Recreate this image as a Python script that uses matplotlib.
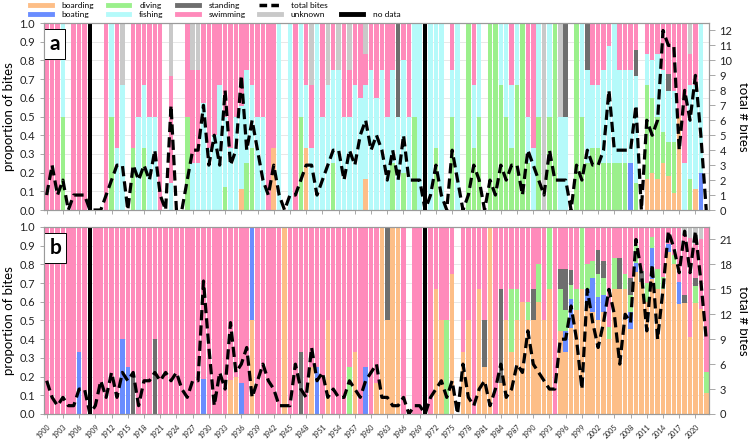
import numpy as np
import matplotlib
matplotlib.use("Agg")
import matplotlib.pyplot as plt
from matplotlib.lines import Line2D

plt.rcParams['font.family'] = ['Lato', 'DejaVu Sans']

years = np.arange(1900, 2023)
no_data_years = [1908, 1970]

categories = ["boarding", "boating", "diving", "fishing", "standing", "swimming", "unknown"]
colors = {
    "boarding": "#FDBE87",
    "boating": "#6A8DFF",
    "diving": "#9BF08C",
    "fishing": "#B5FAFA",
    "standing": "#6E6E6E",
    "swimming": "#FF8ABB",
    "unknown": "#C9C9C9",
}

# ---- panel a: bite counts per year (1900-2022), one row per decade ----
a_boarding = [0, 0, 0, 0, 0, 0, 0, 0, 0, 0,
              0, 0, 0, 0, 0, 0, 0, 0, 0, 0,
              0, 0, 0, 0, 0, 0, 0, 0, 0, 0,
              0, 0, 0, 0, 0, 0, 1, 0, 0, 0,
              0, 0, 1, 0, 0, 0, 0, 0, 1, 0,
              0, 0, 0, 0, 0, 0, 0, 0, 0, 1,
              0, 0, 0, 0, 0, 0, 0, 0, 0, 0,
              0, 0, 0, 0, 0, 0, 0, 0, 0, 0,
              0, 0, 0, 0, 0, 0, 0, 0, 0, 0,
              0, 0, 0, 0, 0, 0, 0, 0, 0, 0,
              0, 0, 0, 0, 0, 0, 0, 0, 0, 0,
              0, 1, 1, 1, 3, 2, 1, 2, 0, 0,
              1, 0, 0]
a_boating = [0] * 108 + [1] + [0] * 12 + [1, 0]
a_diving = [0, 0, 0, 1, 0, 0, 0, 0, 0, 0,
            0, 0, 1, 0, 0, 0, 1, 0, 1, 0,
            0, 0, 0, 0, 0, 0, 1, 0, 0, 0,
            0, 0, 0, 1, 0, 0, 0, 1, 2, 0,
            0, 0, 0, 0, 0, 0, 0, 1, 0, 0,
            0, 0, 0, 1, 0, 0, 0, 0, 0, 0,
            0, 0, 0, 0, 1, 0, 1, 0, 1, 0,
            0, 0, 1, 0, 0, 2, 0, 0, 1, 1,
            1, 0, 2, 1, 2, 1, 1, 2, 1, 1,
            0, 1, 0, 2, 2, 0, 0, 0, 3, 1,
            1, 1, 1, 1, 2, 1, 1, 1, 0, 1,
            0, 3, 2, 2, 2, 2, 3, 0, 0, 1,
            0, 0, 0]
a_fishing = [0, 0, 0, 1, 0, 0, 0, 0, 0, 0,
             0, 0, 1, 1, 2, 0, 0, 1, 1, 1,
             2, 0, 0, 1, 0, 0, 0, 1, 1, 4,
             1, 2, 2, 3, 1, 2, 4, 2, 2, 2,
             1, 0, 0, 1, 0, 1, 0, 1, 1, 1,
             1, 1, 2, 2, 3, 1, 2, 2, 3, 3,
             3, 3, 3, 1, 2, 1, 3, 1, 1, 2,
             0, 1, 2, 1, 0, 1, 2, 0, 0, 1,
             1, 0, 0, 0, 1, 1, 1, 1, 0, 1,
             1, 1, 0, 2, 0, 1, 1, 0, 0, 1,
             2, 1, 1, 2, 5, 3, 2, 2, 2, 4,
             0, 1, 1, 2, 4, 3, 3, 0, 2, 3,
             5, 4, 0]
a_standing = [0] * 65 + [1] + [0] * 30 + [1] + [0] * 3 + [1] + [0] * 8 + [1] + [0] * 5 + [1] + [0] * 7
a_swimming = [1, 3, 1, 0, 0, 1, 1, 1, 0, 0,
              0, 1, 0, 2, 0, 0, 2, 1, 1, 1,
              2, 1, 0, 4, 0, 0, 1, 2, 2, 3,
              2, 3, 1, 4, 2, 2, 4, 1, 2, 2,
              1, 1, 2, 0, 0, 0, 1, 0, 1, 1,
              0, 1, 0, 1, 0, 1, 1, 1, 2, 1,
              1, 2, 1, 1, 1, 0, 1, 1, 0, 0,
              0, 0, 0, 0, 0, 1, 0, 0, 0, 1,
              0, 0, 0, 0, 0, 0, 1, 0, 0, 2,
              2, 0, 0, 0, 0, 0, 0, 0, 0, 0,
              0, 1, 1, 1, 1, 0, 1, 1, 1, 1,
              0, 1, 1, 1, 3, 3, 4, 2, 6, 1,
              3, 0, 0]
a_unknown = [0, 0, 0, 0, 0, 0, 0, 0, 0, 0,
             0, 0, 0, 0, 1, 0, 0, 0, 0, 0,
             0, 0, 0, 2, 0, 0, 0, 1, 1, 0,
             0, 0, 0, 0, 0, 0, 0, 0, 0, 0,
             0, 0, 0, 0, 0, 0, 0, 0, 0, 1,
             0, 0, 1, 0, 1, 0, 1, 0, 0, 1,
             0, 0, 0, 0, 0, 0, 0, 0, 0, 0,
             0, 0, 0, 0, 0, 0, 0, 0, 0, 0,
             0, 0, 0, 0, 0, 0, 0, 0, 0, 0,
             0, 0, 1, 0, 0, 1, 0, 0, 0, 0,
             0, 0, 0, 0, 0, 0, 0, 0, 0, 0,
             0, 0, 0, 0, 0, 0, 0, 0, 0, 1,
             0, 0, 0]

# ---- panel b ----
b_boarding = [0, 0, 0, 0, 0, 0, 0, 0, 0, 0,
              0, 0, 0, 0, 0, 0, 0, 0, 0, 0,
              0, 0, 0, 0, 0, 0, 0, 0, 0, 0,
              0, 0, 0, 0, 2, 1, 0, 0, 1, 0,
              0, 0, 0, 0, 1, 0, 0, 0, 0, 2,
              0, 0, 1, 0, 0, 0, 0, 1, 0, 0,
              0, 1, 2, 1, 1, 1, 0, 0, 0, 0,
              0, 0, 2, 2, 0, 3, 0, 2, 1, 0,
              2, 1, 1, 0, 1, 1, 1, 3, 3, 5,
              3, 3, 2, 2, 0, 4, 3, 6, 5, 2,
              9, 6, 4, 6, 6, 8, 4, 8, 5, 16,
              12, 6, 13, 6, 10, 19, 16, 10, 13, 7,
              13, 9, 1]
b_boating = [0, 0, 0, 0, 0, 0, 1, 0, 0, 0,
             0, 0, 0, 0, 2, 1, 0, 0, 0, 0,
             0, 0, 0, 0, 0, 0, 0, 0, 0, 3,
             0, 0, 0, 0, 0, 0, 1, 0, 1, 0,
             0, 0, 0, 0, 0, 0, 0, 0, 0, 0,
             1, 0, 0, 0, 0, 0, 0, 0, 0, 1,
             0, 0, 0, 0, 0, 0, 0, 0, 0, 0,
             0, 0, 0, 0, 0, 0, 0, 0, 0, 0,
             0, 0, 0, 0, 0, 0, 0, 0, 0, 0,
             0, 0, 0, 0, 0, 0, 1, 2, 0, 0,
             1, 2, 1, 1, 0, 0, 0, 0, 1, 1,
             0, 0, 3, 0, 0, 1, 0, 2, 0, 0,
             0, 0, 0]
b_diving = [0, 0, 0, 0, 0, 0, 0, 0, 0, 0,
            0, 0, 0, 0, 0, 0, 0, 0, 0, 0,
            0, 0, 0, 0, 0, 0, 0, 0, 0, 0,
            0, 0, 0, 0, 0, 0, 0, 0, 0, 0,
            0, 0, 0, 0, 0, 0, 0, 0, 0, 0,
            0, 0, 0, 0, 0, 0, 1, 0, 0, 0,
            0, 0, 0, 0, 0, 0, 0, 0, 0, 0,
            0, 0, 0, 0, 1, 0, 0, 0, 0, 0,
            0, 0, 0, 0, 0, 0, 1, 1, 0, 1,
            0, 1, 0, 1, 0, 2, 1, 1, 1, 1,
            2, 1, 1, 1, 1, 2, 0, 1, 1, 2,
            0, 1, 1, 1, 1, 0, 1, 0, 0, 0,
            2, 0, 1]
b_fishing = [0] * 123
b_standing = [0, 0, 0, 0, 0, 0, 0, 0, 0, 0,
              0, 0, 0, 0, 0, 0, 1, 0, 0, 0,
              2, 0, 0, 0, 0, 0, 0, 0, 0, 0,
              0, 0, 0, 0, 0, 0, 0, 0, 0, 0,
              0, 0, 0, 0, 0, 0, 0, 1, 0, 0,
              0, 0, 0, 0, 0, 0, 0, 0, 0, 0,
              0, 0, 0, 1, 0, 0, 0, 0, 0, 0,
              0, 0, 0, 0, 0, 0, 0, 0, 0, 0,
              0, 1, 0, 0, 3, 0, 0, 0, 0, 0,
              1, 0, 0, 0, 0, 1, 2, 1, 0, 0,
              0, 0, 1, 1, 0, 0, 1, 0, 1, 0,
              1, 0, 0, 0, 0, 0, 0, 0, 1, 0,
              1, 0, 0]
b_swimming = [4, 2, 1, 2, 1, 1, 2, 3, 0, 1,
              4, 2, 5, 2, 3, 3, 4, 1, 4, 4,
              3, 4, 5, 4, 5, 3, 2, 4, 4, 13,
              8, 1, 5, 3, 9, 4, 5, 8, 0, 4,
              6, 4, 3, 1, 0, 1, 6, 2, 2, 6,
              3, 5, 1, 3, 2, 2, 3, 2, 2, 3,
              5, 5, 0, 0, 0, 0, 2, 0, 1, 1,
              0, 2, 1, 2, 1, 1, 0, 4, 1, 1,
              1, 2, 0, 3, 2, 1, 1, 2, 2, 4,
              2, 1, 2, 0, 3, 2, 2, 3, 3, 0,
              3, 2, 1, 2, 8, 2, 1, 3, 3, 2,
              4, 3, 1, 2, 4, 2, 3, 5, 7, 9,
              4, 6, 7]
b_unknown = [0] * 118 + [1, 1, 2, 1, 0]

panel_a = dict(zip(categories, [a_boarding, a_boating, a_diving, a_fishing,
                                a_standing, a_swimming, a_unknown]))
panel_b = dict(zip(categories, [b_boarding, b_boating, b_diving, b_fishing,
                                b_standing, b_swimming, b_unknown]))

GRAY = "#9a9a9a"


def draw_panel(ax, counts, rmax, rticks, letter, show_xlabels):
    counts = {c: np.asarray(v, dtype=float) for c, v in counts.items()}
    total = sum(counts.values())
    bottom = np.zeros(len(years))
    for cat in categories:
        frac = np.divide(counts[cat], total, out=np.zeros_like(total), where=total > 0)
        ax.bar(years, frac, width=0.84, bottom=bottom, color=colors[cat],
               linewidth=0, zorder=2)
        bottom += frac
    # years without records are drawn as solid black bars
    ax.bar(no_data_years, [1] * len(no_data_years), width=0.84, color="black",
           linewidth=0, zorder=3)

    ax.set_xlim(1899.5, 2022.5)
    ax.set_ylim(0, 1)
    ax.set_yticks(np.arange(0, 1.01, 0.1))
    ax.set_yticklabels([f"{v:.1f}" for v in np.arange(0, 1.01, 0.1)], fontsize=8)
    ax.yaxis.grid(True, color="#e4e4e4", lw=0.6)
    ax.set_axisbelow(True)
    ax.set_ylabel("proportion of bites", fontsize=9.5, labelpad=3)
    ax.set_xticks(np.arange(1900, 2021, 3))
    if show_xlabels:
        ax.set_xticklabels([str(y) for y in range(1900, 2021, 3)], rotation=45,
                           fontsize=5, ha="right", rotation_mode="anchor")
    else:
        ax.set_xticklabels([])
    ax.tick_params(axis="both", colors=GRAY, labelcolor="#222222", length=3, width=0.6)
    for s in ax.spines.values():
        s.set_color(GRAY)
        s.set_linewidth(0.8)

    ax2 = ax.twinx()
    ax2.plot(years, total, color="black", lw=2.3, ls=(0, (3.2, 1.6)),
             dash_capstyle="butt", zorder=5)
    ax2.set_ylim(0, rmax)
    ax2.set_yticks(rticks)
    ax2.set_yticklabels([str(t) for t in rticks], fontsize=8)
    ax2.tick_params(axis="y", colors=GRAY, labelcolor="#222222", length=4, width=0.6)
    ax2.set_ylabel("total # bites", fontsize=9.5, rotation=270, labelpad=12)
    for s in ax2.spines.values():
        s.set_color(GRAY)
        s.set_linewidth(0.8)

    ax.text(0.008, 0.94, letter, transform=ax.transAxes, fontsize=15,
            fontweight="bold", va="top", ha="left", zorder=10,
            bbox=dict(boxstyle="square,pad=0.25", fc="white", ec="black", lw=0.7))


fig = plt.figure(figsize=(7.48, 4.40), dpi=100)
ax_a = fig.add_axes([0.0588, 0.5227, 0.889, 0.425])
ax_b = fig.add_axes([0.0588, 0.0591, 0.889, 0.425])

draw_panel(ax_a, panel_a, 12.5, list(range(0, 13)), "a", False)
draw_panel(ax_b, panel_b, 22.5, list(range(0, 22, 3)), "b", True)

# legend above panel a: 5 columns, blank slot keeps "no data" on the second row
h = lambda c: Line2D([], [], color=c, lw=3.5)
handles = [h(colors["boarding"]), h(colors["boating"]),
           h(colors["diving"]), h(colors["fishing"]),
           h(colors["standing"]), h(colors["swimming"]),
           Line2D([], [], color="black", lw=2.5, ls=(0, (2.2, 1.2))), h(colors["unknown"]),
           Line2D([], [], alpha=0), Line2D([], [], color="black", lw=3.5)]
labels = ["boarding", "boating", "diving", "fishing", "standing", "swimming",
          "total bites", "unknown", "", "no data"]
fig.legend(handles, labels, ncol=5, loc="upper left", bbox_to_anchor=(0.03, 1.012),
           frameon=False, fontsize=6, handlelength=2.6, columnspacing=1.6,
           handletextpad=1.2, labelspacing=0.25)

fig.savefig("out.png", dpi=100)
